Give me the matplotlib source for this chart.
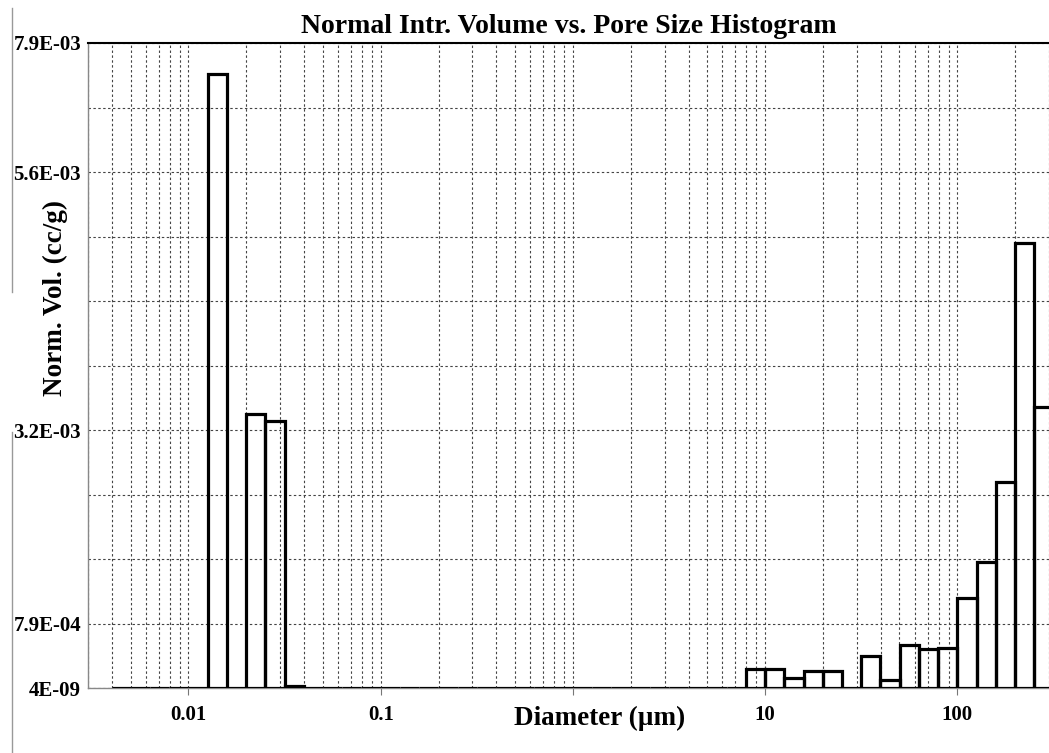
import numpy as np
import matplotlib
matplotlib.use("Agg")
import matplotlib.pyplot as plt
from matplotlib.ticker import FixedLocator, NullFormatter, LogLocator
from matplotlib.lines import Line2D

plt.rcParams['font.family'] = ['Liberation Serif', 'DejaVu Serif']
plt.rcParams['font.weight'] = 'bold'

# ---- data ----
# histogram bins are 0.1 decade wide, from 10^-2.4 to 10^2.5 µm
bin_edges = np.logspace(-2.4, 2.5, 50)
norm_volume = [
    0, 0, 0, 0, 0,                 # -2.4 .. -1.9
    7.52e-3,                       # -1.9 .. -1.8
    0,                             # -1.8 .. -1.7
    3.36e-3, 3.27e-3, 3.0e-5,      # -1.7 .. -1.4
    0, 0, 0, 0, 0, 0, 0, 0, 0, 0,  # -1.4 .. -0.4
    0, 0, 0, 0, 0, 0, 0, 0, 0, 0,  # -0.4 .. 0.6
    0, 0, 0,                       # 0.6 .. 0.9
    2.36e-4, 2.36e-4, 1.22e-4, 2.03e-4, 2.03e-4,   # 0.9 .. 1.4
    0, 3.87e-4, 1.02e-4, 5.22e-4, 4.78e-4, 4.90e-4,  # 1.4 .. 2.0
    1.10e-3, 1.54e-3, 2.52e-3, 5.45e-3, 3.44e-3,     # 2.0 .. 2.5
]
ytick_vals = [0, 7.9e-4, 3.16e-3, 6.32e-3, 7.9e-3]
ytick_labels = ['4E-09', '7.9E-04', '3.2E-03', '5.6E-03', '7.9E-03']
xtick_vals = [0.01, 0.1, 1, 10, 100]
xtick_labels = ['0.01', '0.1', '', '10', '100']
title = 'Normal Intr. Volume vs. Pore Size Histogram'
xlabel = 'Diameter (µm)'
ylabel = 'Norm. Vol. (cc/g)'

W, H = 1049, 753
fig = plt.figure(figsize=(W / 100, H / 100), dpi=100)
ax = fig.add_axes([88 / W, (H - 688) / H, (W - 88) / W, (688 - 43) / H])

ax.set_xscale('log')
ax.set_xlim(0.003, 300)
ax.set_ylim(0, 7.9e-3)

lefts = bin_edges[:-1]
widths = np.diff(bin_edges)
ax.bar(lefts, norm_volume, width=widths, align='edge', fill=False,
       edgecolor='black', linewidth=2.3, zorder=3, joinstyle='miter')

# grid
grid_kw = dict(color='#444444', linewidth=0.8, linestyle=(0, (2.2, 2.2)))
ax.yaxis.set_major_locator(FixedLocator(ytick_vals))
ax.yaxis.set_minor_locator(FixedLocator([7.9e-4 * k for k in range(1, 10)]))
ax.set_yticklabels(ytick_labels)
ax.xaxis.set_major_locator(FixedLocator(xtick_vals))
ax.xaxis.set_minor_locator(LogLocator(base=10, subs=np.arange(2, 10)))
ax.xaxis.set_minor_formatter(NullFormatter())
ax.set_xticklabels(xtick_labels)
ax.grid(True, which='both', axis='both', **grid_kw)
ax.set_axisbelow(True)

ax.tick_params(axis='y', which='both', length=0, pad=5, labelsize=15)
ax.tick_params(axis='x', which='major', length=5, width=0.8, color='#777777',
               pad=7, labelsize=15, direction='out')
ax.tick_params(axis='x', which='minor', length=0)
for lab in ax.get_xticklabels() + ax.get_yticklabels():
    lab.set_fontweight('bold')

# spines
ax.spines['top'].set_color('black')
ax.spines['top'].set_linewidth(1.5)
ax.spines['left'].set_color('#888888')
ax.spines['left'].set_linewidth(1.0)
ax.spines['bottom'].set_color('#888888')
ax.spines['bottom'].set_linewidth(1.0)
ax.spines['right'].set_visible(False)

ax.set_title(title, fontsize=20, fontweight='bold', pad=7)
ax.set_xlabel(xlabel, fontsize=19.5, fontweight='bold')
ax.xaxis.set_label_coords((600 - 88) / 961, -0.028)
ax.set_ylabel(ylabel, fontsize=19.5, fontweight='bold')
ax.yaxis.set_label_coords(-0.021, (688 - 298) / 645)

# page border artifact at left
fig.add_artist(Line2D([12 / W, 12 / W], [1 - 8 / H, 1 - 292 / H],
                      transform=fig.transFigure, color='#999999', lw=1))
fig.add_artist(Line2D([12 / W, 12 / W], [1 - 432 / H, 0],
                      transform=fig.transFigure, color='#999999', lw=1))

fig.savefig('out.png', dpi=100)
